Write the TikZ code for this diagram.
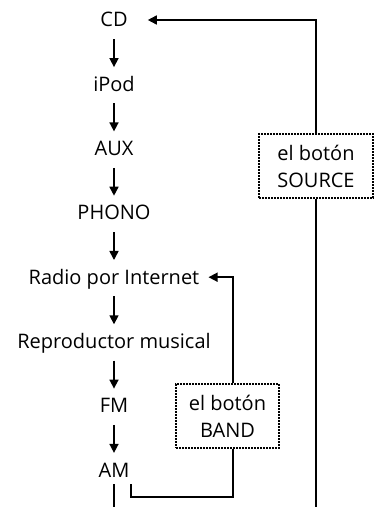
\documentclass[tikz,border=0pt]{standalone}
\usepackage{fontspec}
\setmainfont{Open Sans}
\usetikzlibrary{arrows.meta}
\begin{document}
\begin{tikzpicture}[x=1pt, y=1pt, >={Triangle[length=9pt,width=9pt]},
    mode/.style={font=\fontsize{20}{27}\selectfont, anchor=base, inner sep=0pt, text height=14pt, text depth=0pt},
    wire/.style={line width=1.6pt},
    flow/.style={->, wire, shorten <=12pt, shorten >=10pt},
    boton/.style={draw, line width=1.6pt, dash pattern=on 1.6pt off 1.4pt, align=center,
                  minimum height=64pt, inner sep=0pt, font=\fontsize{20}{27}\selectfont}]
    \useasboundingbox (0,0) rectangle (374,507);

    % fuentes, de arriba abajo
    \node[mode] (cd)    at (114,480)   {CD};
    \node[mode] (ipod)  at (114,415.7) {iPod};
    \node[mode] (aux)   at (114,351.4) {AUX};
    \node[mode] (phono) at (114,287.1) {PHONO};
    \node[mode] (radio) at (114,222.8) {Radio por Internet};
    \node[mode] (repro) at (114,158.5) {Reproductor musical};
    \node[mode] (fm)    at (114,94.2)  {FM};
    \node[mode] (am)    at (114,29.9)  {AM};

    % flechas entre fuentes
    \draw[flow] (cd) -- (ipod);
    \draw[flow] (ipod) -- (aux);
    \draw[flow] (aux) -- (phono);
    \draw[flow] (phono) -- (radio);
    \draw[flow] (radio) -- (repro);
    \draw[flow] (repro) -- (fm);
    \draw[flow] (fm) -- (am);

    % botones
    \node[boton, minimum width=114pt] (source) at (316,341) {el botón\\SOURCE};
    \node[boton, minimum width=103pt] (band)   at (227.5,91) {el botón\\BAND};

    \coordinate (floor) at (0,0);
    \coordinate (bandx) at (233,0);
    \coordinate (bandend) at (131,10);

    % lazo SOURCE
    \draw[->, wire, shorten >=20pt] (source.north) |- (cd.east);
    \draw[wire] (source.south) -- (source.south |- floor);

    % lazo BAND
    \draw[->, wire, shorten >=9pt] (band.north -| bandx) |- (radio.east);
    \draw[wire, shorten >=7pt] (band.south -| bandx) |- (bandend) -- (bandend |- am.south);
    \draw[wire, shorten <=7pt] (am.south) -- (am.south |- floor);
\end{tikzpicture}
\end{document}
